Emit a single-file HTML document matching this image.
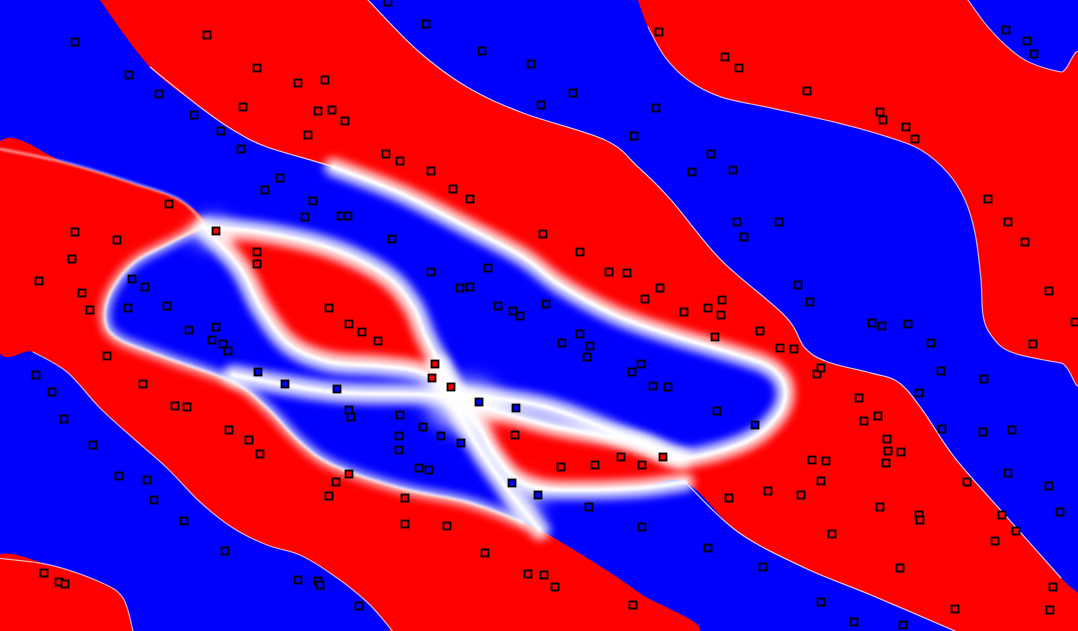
<!DOCTYPE html>
<html><head><meta charset="utf-8"><style>
html,body{margin:0;padding:0;background:#00f;overflow:hidden}
svg{display:block}
</style></head><body>
<svg id="chart" width="1078" height="631" viewBox="0 0 1078 631" xmlns="http://www.w3.org/2000/svg">
<defs>
<filter id="b1" x="-20%" y="-20%" width="140%" height="140%"><feGaussianBlur stdDeviation="1.2"/></filter>
<filter id="b3" x="-20%" y="-20%" width="140%" height="140%"><feGaussianBlur stdDeviation="4.5"/></filter>
<filter id="b6" x="-50%" y="-50%" width="200%" height="200%"><feGaussianBlur stdDeviation="9"/></filter>
</defs>
<rect x="0" y="0" width="1078" height="631" fill="#0000ff"/>
<g id="regions" fill="#ff0000"></g>
<g id="glow" fill="none" stroke="#fff" stroke-linecap="round" stroke-linejoin="round"></g>
<g id="pts"></g>
</svg>
<script>
// Region boundary outlines (decision regions of the red class)
const regionTopBand = [[100,-5],[368,-5],[368,0],[417,50],[467,87],[523,113],[605,140],[638,167],[671,200],[721,260],[785,316],[805,348],[828,362],[871,373],[898,382],[921,408],[955,458],[1005,515],[1061,578],[1083,600],[1083,636],[955,636],[955,631],[871,595],[805,568],[738,532],[685,482],[640,488],[580,490],[538,488],[515,478],[495,455],[478,425],[458,398],[500,412],[560,428],[638,442],[681,458],[745,442],[778,415],[785,388],[771,368],[738,355],[671,335],[615,315],[560,285],[523,257],[467,227],[400,193],[333,167],[267,147],[233,130],[200,107],[150,67],[100,0]];
const regionTopRight = [[638,-5],[968,-5],[968,0],[988,27],[1011,50],[1031,63],[1061,72],[1083,73],[1083,365],[1061,363],[1011,352],[991,335],[983,315],[981,280],[975,233],[965,200],[948,173],[921,150],[888,137],[838,123],[771,108],[721,97],[688,80],[665,57],[648,27],[638,0]];
const regionBottomLeft = [[-5,558],[50,565],[100,582],[123,598],[133,631],[135,636],[-5,636]];
const regionLeftBand = [[-5,149],[67,163],[133,183],[180,200],[205,225],[170,243],[135,262],[112,290],[105,318],[117,338],[167,358],[233,382],[267,408],[300,442],[333,465],[400,488],[467,502],[523,522],[571,548],[638,592],[688,636],[395,636],[390,628],[367,602],[333,575],[300,555],[267,545],[233,528],[200,502],[167,468],[133,438],[100,408],[67,372],[33,352],[-5,340]];
const regionUpperLobe = [[205,228],[260,232],[330,248],[385,275],[412,305],[425,335],[440,365],[452,390],[420,372],[380,366],[330,362],[290,345],[262,310],[240,268]];

// glowing boundary lines
const lineRingTop = [[0,149],[67,163],[133,183],[180,200],[205,225]];
const lineRing = [[205,225],[170,243],[135,262],[112,290],[105,318],[117,338],[167,358],[233,382],[267,408],[300,442],[333,465],[400,488],[467,502],[523,522]];
const lineTopLower = [[333,167],[400,193],[467,227],[523,257],[560,285],[615,315],[671,335],[738,355],[771,368],[785,388],[778,415],[745,442],[681,458],[638,442],[560,428],[500,412],[458,398]];
const lineLobeBottom = [[458,398],[478,425],[495,455],[515,478],[538,488],[580,490],[640,488],[685,482]];
const lineX1 = [[440,365],[460,415],[483,455],[517,502],[540,530]];
const lineX2 = [[233,375],[333,392],[433,395],[538,405],[638,442],[681,458]];

// training samples [x, y]
const pointsX = [75,207,129,159,194,221,241,257,243,298,325,318,332,345,308,386,400,431,453,470,388,426,482,531,573,541,656,634,659,725,739,807,880,883,906,915,1006,1027,1034,711,692,733,737,744,779,798,810,988,1008,1025,1049,1075,1033,872,882,908,931,941,984,919,878,864,859,887,901,886,888,942,983,1012,1008,967,1049,1060,1002,995,1016,919,920,880,832,900,1053,1050,955,903,821,854,763,708,642,589,633,729,768,801,821,812,826,817,821,794,780,755,717,760,715,668,653,641,632,587,590,562,580,546,520,513,498,470,460,488,431,392,543,580,609,627,660,645,684,708,722,721,313,341,348,305,280,265,169,216,257,257,75,117,72,39,82,90,132,145,167,128,189,216,212,223,228,107,329,349,362,378,435,432,451,479,516,515,441,461,423,400,349,351,337,285,258,229,249,260,175,187,143,36,52,64,93,119,147,154,184,225,349,336,329,405,405,447,485,419,429,399,399,561,595,621,642,663,512,538,528,544,555,298,318,320,359,44,59,65];
const pointsY = [42,35,75,94,115,131,149,68,107,83,80,111,110,121,135,154,161,171,189,199,2,24,51,64,93,105,108,136,32,57,68,91,112,120,127,139,30,41,54,154,172,170,222,237,222,285,302,199,222,242,291,322,344,323,326,324,343,371,379,393,416,421,398,439,452,463,451,429,432,430,473,482,486,512,515,541,531,515,520,507,534,568,587,610,609,625,602,622,567,548,527,507,605,498,491,495,481,460,461,374,368,349,348,425,411,331,337,387,386,364,372,357,346,343,334,304,316,311,306,287,288,268,272,239,234,252,272,273,288,299,312,308,300,315,201,216,216,217,178,190,204,231,252,264,232,240,259,281,293,310,279,287,306,308,330,327,340,344,351,356,308,324,332,341,364,378,387,402,408,435,436,443,427,415,410,417,389,384,372,430,440,454,406,407,384,375,392,419,445,476,480,500,521,551,474,482,496,498,524,526,553,468,470,450,436,467,465,457,465,457,483,495,574,575,587,580,581,585,606,573,582,584];

const NS = 'http://www.w3.org/2000/svg';
function cr(pts, closed){
  const n = pts.length; let d = 'M'+pts[0][0]+','+pts[0][1];
  const g = i => closed ? pts[(i+n)%n] : pts[Math.max(0,Math.min(n-1,i))];
  const last = closed ? n : n-1;
  for(let i=0;i<last;i++){
    const p0=g(i-1),p1=g(i),p2=g(i+1),p3=g(i+2);
    const c1=[p1[0]+(p2[0]-p0[0])/6,p1[1]+(p2[1]-p0[1])/6];
    const c2=[p2[0]-(p3[0]-p1[0])/6,p2[1]-(p3[1]-p1[1])/6];
    d+=' C'+c1[0].toFixed(1)+','+c1[1].toFixed(1)+' '+c2[0].toFixed(1)+','+c2[1].toFixed(1)+' '+p2[0]+','+p2[1];
  }
  return d+(closed?'Z':'');
}
const regions = document.getElementById('regions');
const redDs = [];
function addRegion(pts, name){
  const p = document.createElementNS(NS,'path');
  const d = cr(pts,true);
  p.setAttribute('d', d);
  
  
  regions.appendChild(p); redDs.push(d);
}
addRegion(regionTopBand,'red-region-main-band');
addRegion(regionTopRight,'red-region-top-right');
addRegion(regionBottomLeft,'red-region-bottom-left');
addRegion(regionLeftBand,'red-region-left-band');
addRegion(regionUpperLobe,'red-region-upper-lobe');

const glow = document.getElementById('glow');
function addLine(pts, name, w, filt, op){
  const p = document.createElementNS(NS,'path');
  p.setAttribute('d', cr(pts,false));
  p.setAttribute('stroke-width', w);
  if(filt) p.setAttribute('filter','url(#'+filt+')');
  p.setAttribute('opacity', op);
  
  
  glow.appendChild(p);
}
// thin sharp outer boundaries
addLine(regionTopBand.slice(2,19),'boundary-top-band-upper',1.2,null,0.8);
addLine(regionTopBand.slice(42,54),'boundary-top-band-left',1.2,null,0.8);
addLine(regionTopBand.slice(22,27),'boundary-main-band-lower',1.2,null,0.8);
addLine(regionTopRight.slice(2,25),'boundary-top-right',1.2,null,0.7);
addLine(regionLeftBand.slice(21,34),'boundary-left-band-lower',1.2,null,0.7);
addLine(regionBottomLeft.slice(0,5),'boundary-bottom-left',1.2,null,0.7);
addLine(lineRingTop,'boundary-left-band-upper',2,'b1',0.8);
// glowing inner boundaries
addLine(lineRing,'boundary-ring',10,'b3',0.75);
addLine(lineRing,'boundary-ring-core',2.5,'b1',0.9);
addLine(lineTopLower,'boundary-inner-loop',18,'b3',0.85);
addLine(lineTopLower,'boundary-inner-loop-core',4,'b1',0.95);
addLine(lineLobeBottom,'boundary-lower-lobe',18,'b3',0.85);
addLine(lineLobeBottom,'boundary-lower-lobe-core',4,'b1',0.95);
addLine(lineX1,'boundary-cross-a',20,'b3',0.85);
addLine(lineX1,'boundary-cross-a-core',4,'b1',0.95);
addLine(lineX2,'boundary-cross-b',20,'b3',0.85);
addLine(lineX2,'boundary-cross-b-core',4,'b1',0.95);
const lobeLine = regionUpperLobe.concat([regionUpperLobe[0]]);
addLine(lobeLine,'boundary-upper-lobe',20,'b3',0.85);
addLine(lobeLine,'boundary-upper-lobe-core',4,'b1',0.95);
function addBlob(cx,cy,rx,ry,op,name){
  const e = document.createElementNS(NS,'ellipse');
  e.setAttribute('cx',cx);e.setAttribute('cy',cy);e.setAttribute('rx',rx);e.setAttribute('ry',ry);
  e.setAttribute('fill','#fff');e.setAttribute('stroke','none');e.setAttribute('opacity',op);e.setAttribute('filter','url(#b6)');
  
  
  glow.appendChild(e);
}
addBlob(465,405,38,26,0.7,'cross-glow');
addBlob(212,232,22,16,0.55,'junction-glow');
addBlob(525,500,18,22,0.5,'lower-cross-glow');

const ctx = document.createElement('canvas').getContext('2d');
const redP2 = redDs.map(d => new Path2D(d));
const ptsG = document.getElementById('pts');
for(let i=0;i<pointsX.length;i++){
  const x=pointsX[i], y=pointsY[i];
  let red=false;
  for(const p of redP2){ if(ctx.isPointInPath(p,x,y)){red=true;break;} }
  const r=document.createElementNS(NS,'rect');
  r.setAttribute('x',x-3.5);r.setAttribute('y',y-3.5);
  r.setAttribute('width',7);r.setAttribute('height',7);
  r.setAttribute('fill',red?'#ff0000':'#0000ff');
  r.setAttribute('stroke','#000');r.setAttribute('stroke-width','1.8');
  
  
  ptsG.appendChild(r);
}
</script>
</body></html>
